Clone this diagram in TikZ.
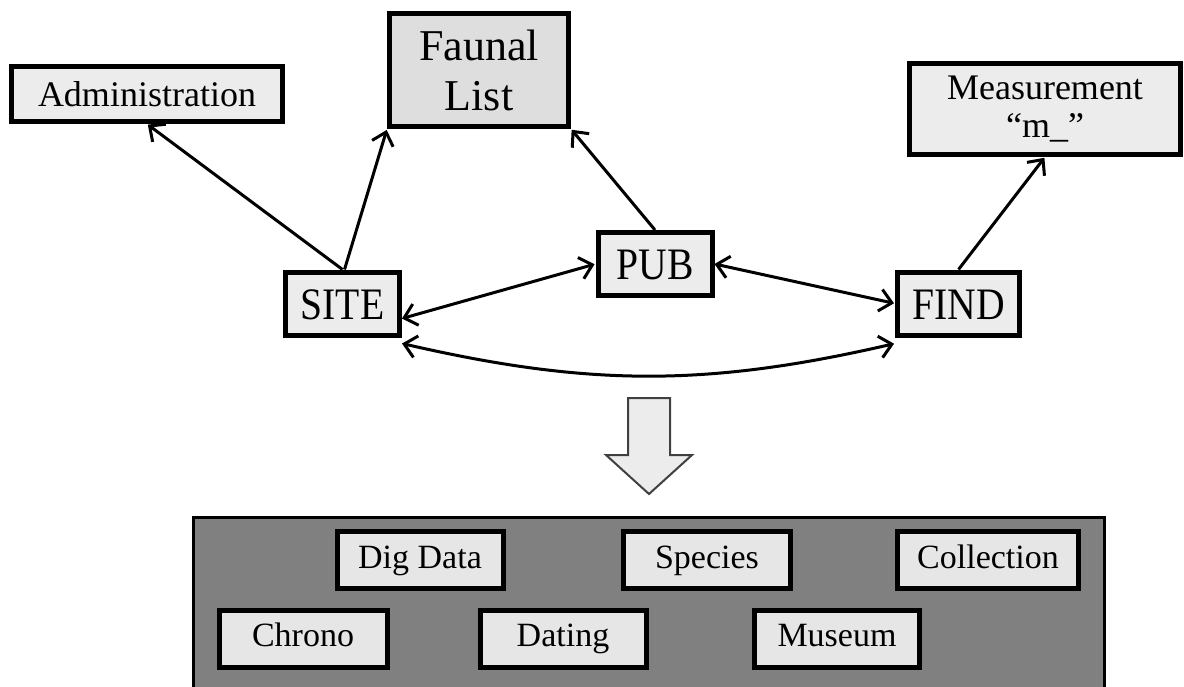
\documentclass[tikz,border=0pt]{standalone}
\usepackage{fontspec}
\setmainfont{Liberation Serif}
\newfontfamily\capsfont[FakeStretch=0.88]{Liberation Serif}
\usepackage{xcolor}
\usepackage{tikz}
\usetikzlibrary{
    arrows.meta
}
\definecolor{boxgray}{HTML}{ECECEC}
\definecolor{listgray}{HTML}{DEDEDE}
\definecolor{cellgray}{HTML}{E6E6E6}
\definecolor{storegray}{HTML}{808080}
\definecolor{arrowedge}{HTML}{404040}

\begin{document}
\begin{tikzpicture}[x=1pt,y=1pt,->,>={Straight Barb[length=12pt,width=22pt]},shorten >=1pt,line width=3pt]
    \tikzstyle{table}=[shape=rectangle, draw, line width=5pt, fill=boxgray, inner sep=0pt, align=center, font=\fontsize{36}{38}\selectfont]
    \tikzstyle{core}=[table, text height=31pt, text depth=0pt, font=\capsfont\fontsize{45}{48}\selectfont]
    \tikzstyle{cell}=[table, line width=5pt, fill=cellgray, minimum height=57pt, text height=24pt, text depth=8pt, font=\fontsize{34}{38}\selectfont]
    \useasboundingbox (0,0) rectangle (1184,-686);
    % upper tables
    \node[table, minimum width=271pt, minimum height=55pt] (admin) at (147,-94) {Administration};
    \node[table, fill=listgray, minimum width=179pt, minimum height=113pt, font=\fontsize{44}{50}\selectfont] (faunal) at (479,-70) {Faunal\\List};
    \node[table, minimum width=271pt, minimum height=91pt] (meas) at (1045,-109) {Measurement\\“m\_”};
    \node[core, minimum width=114pt, minimum height=63pt] (site) at (342.5,-303.5) {SITE};
    \node[core, minimum width=114pt, minimum height=63pt] (pub) at (655,-264) {PUB};
    \node[core, minimum width=122pt, minimum height=63pt] (find) at (958.5,-303.5) {FIND};
    \path (site.north) edge (admin.south);
    \path ([xshift=2pt]site.north) edge (faunal.south west);
    \path (pub.north) edge (faunal.south east);
    \path (find.north) edge (meas.south);
    \path ([yshift=-15pt]site.east) edge [<->] (pub.west);
    \path (pub.east) edge [<->] (find.west);
    \path ([yshift=-6pt]site.south east) edge [<->, bend right=13] ([yshift=-6pt]find.south west);
    % block arrow
    \draw[-, line width=2pt, draw=arrowedge, fill=boxgray, line join=miter] (628,-398) -- (670,-398) -- (670,-455) -- (692,-455) -- (649,-494) -- (606,-455) -- (628,-455) -- cycle;
    % merged tables
    \node[shape=rectangle, draw, line width=3pt, fill=storegray, minimum width=911pt, minimum height=173pt, inner sep=0pt] (store) at (649,-603.5) {};
    \node[cell, minimum width=166pt] (dig) at (420,-560) {Dig Data};
    \node[cell, minimum width=167pt] (species) at (707,-560) {Species};
    \node[cell, minimum width=181pt] (coll) at (988,-560) {Collection};
    \node[cell, minimum width=168pt] (chrono) at (303,-638.5) {Chrono};
    \node[cell, minimum width=166pt] (dating) at (563,-638.5) {Dating};
    \node[cell, minimum width=165pt] (museum) at (837,-638.5) {Museum};
\end{tikzpicture}
\end{document}
